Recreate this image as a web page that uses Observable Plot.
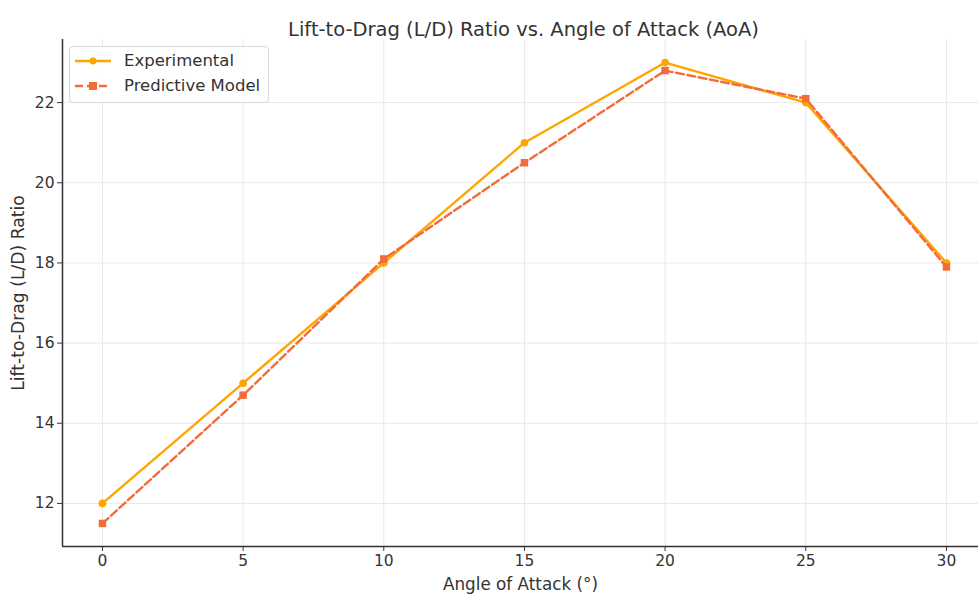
<!DOCTYPE html>
<html>
<head>
<meta charset="utf-8">
<script src="https://cdn.jsdelivr.net/npm/d3@7"></script>
<script src="https://cdn.jsdelivr.net/npm/@observablehq/plot@0.6"></script>
<style>
  body { margin: 0; background: #fff; font-family: "DejaVu Sans", sans-serif; }
  #wrap { position: relative; width: 978px; height: 597px; }
  #legend { position: absolute; left: 69px; top: 46px; width: 200px; height: 57px;
    border: 1px solid #d6d6d6; border-radius: 4px; background: rgba(255,255,255,0.85);
    font-family: "DejaVu Sans", sans-serif; font-size: 16.5px; color: #333; box-sizing: border-box; }
  .row { position: absolute; left: 5px; height: 20px; display: flex; align-items: center; line-height: 20px; }
  .row span { margin-left: 13px; white-space: nowrap; }
</style>
</head>
<body>
<div id="wrap"></div>
<script>
const angles = [0, 5, 10, 15, 20, 25, 30];
const experimental = [12, 15, 18, 21, 23, 22, 18];
const predictive = [11.5, 14.7, 18.1, 20.5, 22.8, 22.1, 17.9];
const xTicks = [0, 5, 10, 15, 20, 25, 30];
const yTicks = [12, 14, 16, 18, 20, 22];
const seriesNames = ["Experimental", "Predictive Model"];
const colors = ["#FFA500", "#F26B38"];
const title = "Lift-to-Drag (L/D) Ratio vs. Angle of Attack (AoA)";

const xDomain = [-1.42, 31.14];
const yDomain = [10.925, 23.575];

const expData = angles.map((a, i) => ({x: a, y: experimental[i]}));
const predData = angles.map((a, i) => ({x: a, y: predictive[i]}));

const chart = Plot.plot({
  width: 978,
  height: 597,
  marginLeft: 62,
  marginRight: 0,
  marginTop: 39,
  marginBottom: 51,
  style: {fontFamily: "DejaVu Sans, sans-serif", fontSize: "15.5px", color: "#333", background: "#fff"},
  x: {domain: xDomain},
  y: {domain: yDomain},
  marks: [
    Plot.gridX(xTicks, {stroke: "#e8e8e8", strokeOpacity: 1}),
    Plot.gridY(yTicks, {stroke: "#e8e8e8", strokeOpacity: 1}),
    Plot.axisX(xTicks, {tickSize: 5, tickPadding: 3, stroke: "#333", fontSize: 15.5,
      label: null}),
    Plot.axisX({label: "Angle of Attack (°)", labelAnchor: "center", labelArrow: "none", labelOffset: 43,
      ticks: [], fontSize: 16.8, tickSize: 0}),
    Plot.axisY(yTicks, {tickSize: 5, tickPadding: 3, stroke: "#333", fontSize: 15.5,
      label: null}),
    Plot.axisY({label: "Lift-to-Drag (L/D) Ratio", labelAnchor: "center", labelArrow: "none", labelOffset: 51,
      ticks: [], fontSize: 17.2, tickSize: 0}),
    Plot.ruleX([xDomain[0]], {stroke: "#333", strokeWidth: 1.5}),
    Plot.ruleY([yDomain[0]], {stroke: "#333", strokeWidth: 1.5}),
    Plot.line(expData, {x: "x", y: "y", stroke: colors[0], strokeWidth: 2.4}),
    Plot.dot(expData, {x: "x", y: "y", fill: colors[0], r: 3.8, symbol: "circle"}),
    Plot.line(predData, {x: "x", y: "y", stroke: colors[1], strokeWidth: 2.4, strokeDasharray: "8,3.5"}),
    Plot.dot(predData, {x: "x", y: "y", fill: colors[1], r: 4.2, symbol: "square"}),
    Plot.text([title], {frameAnchor: "top", dy: -17, dx: 3, fontSize: 19.5, fill: "#333"})
  ]
});
const wrap = document.getElementById("wrap");
wrap.appendChild(chart);

const legend = document.createElement("div");
legend.id = "legend";
const swatches = [
  `<svg width="36" height="12"><line x1="0" y1="6" x2="36" y2="6" stroke="${colors[0]}" stroke-width="2.4"/><circle cx="18" cy="6" r="3.4" fill="${colors[0]}"/></svg>`,
  `<svg width="36" height="12"><line x1="0" y1="6" x2="36" y2="6" stroke="${colors[1]}" stroke-width="2.4" stroke-dasharray="8,4"/><rect x="14" y="2" width="8" height="8" fill="${colors[1]}"/></svg>`
];
seriesNames.forEach((name, i) => {
  const row = document.createElement("div");
  row.className = "row";
  row.style.top = (4 + i * 25) + "px";
  row.innerHTML = swatches[i] + `<span>${name}</span>`;
  legend.appendChild(row);
});
wrap.appendChild(legend);
</script>
</body>
</html>
